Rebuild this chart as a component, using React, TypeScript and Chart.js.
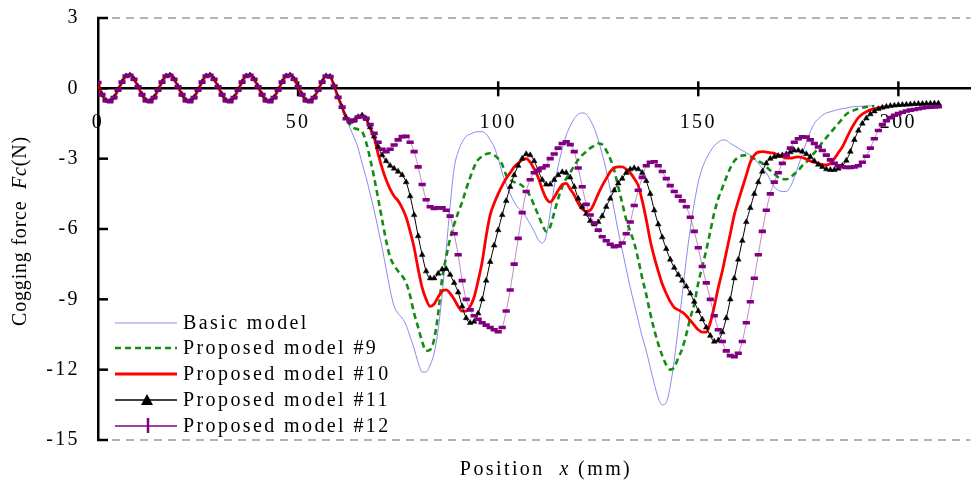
import React, { useEffect, useRef } from "react";
import { Chart, registerables } from "chart.js";

Chart.register(...registerables);

const SERIF = '"Liberation Serif", "Times New Roman", serif';

const seriesNames = [
  "Basic model",
  "Proposed model #9",
  "Proposed model #10",
  "Proposed model #11",
  "Proposed model #12",
];
const xTickValues = [0, 50, 100, 150, 200];
const yTickValues = [3, 0, -3, -6, -9, -12, -15];

// Values (N) at 1 mm steps, 0 .. 61 mm: identical for every model
const commonStart = [
  0.25, -0.27, -0.52, -0.56, -0.39, -0.07, 0.27, 0.52, 0.56, 0.39,
  0.07, -0.27, -0.52, -0.56, -0.39, -0.07, 0.27, 0.52, 0.56, 0.39,
  0.07, -0.27, -0.52, -0.56, -0.39, -0.07, 0.27, 0.52, 0.56, 0.39,
  0.07, -0.27, -0.52, -0.56, -0.39, -0.07, 0.27, 0.52, 0.56, 0.39,
  0.07, -0.27, -0.52, -0.56, -0.39, -0.07, 0.27, 0.52, 0.56, 0.39,
  0.07, -0.27, -0.52, -0.56, -0.39, -0.07, 0.27, 0.52, 0.5, 0.1,
  -0.38, -0.8,
];

// From 62 mm onwards, 1 mm steps
const basicTail = [
  -1.25, -1.7, -2.1, -2.55, -3.2, -3.8, -4.5, -5.2, -6.0, -6.8,
  -7.7, -8.6, -9.3, -9.6, -9.8, -10.1, -10.6, -11.1, -11.7, -12.1,
  -12.1, -11.8, -11.3, -10.3, -8.8, -6.9, -5.0, -3.4, -2.7, -2.3,
  -2.05, -1.95, -1.88, -1.85, -1.85, -1.95, -2.2, -2.5, -3.0, -3.6,
  -4.1, -4.5, -4.85, -5.1, -5.25, -5.5, -5.8, -6.1, -6.45, -6.6,
  -6.3, -5.3, -4.2, -3.3, -2.6, -2.0, -1.6, -1.3, -1.1, -1.05,
  -1.1, -1.35, -1.7, -2.2, -2.8, -3.5, -4.3, -5.2, -6.1, -6.9,
  -7.7, -8.5, -9.2, -9.9, -10.6, -11.2, -11.9, -12.6, -13.2, -13.5,
  -13.4, -12.7, -11.6, -10.2, -8.8, -7.3, -6.0, -4.9, -4.0, -3.4,
  -3.0, -2.7, -2.45, -2.3, -2.2, -2.22, -2.35, -2.45, -2.55, -2.65,
  -2.75, -2.85, -3.0, -3.2, -3.4, -3.6, -3.9, -4.2, -4.35, -4.4,
  -4.4, -4.2, -3.8, -3.3, -2.8, -2.3, -1.85, -1.5, -1.3, -1.15,
  -1.05, -1.0, -0.95, -0.9, -0.87, -0.84, -0.8, -0.78, -0.77, -0.76,
  -0.75, -0.75, -0.74,
];

const model9Tail = [
  -1.25, -1.55, -1.7, -1.75, -1.85, -2.3, -3.0, -3.8, -4.7, -5.6,
  -6.5, -7.2, -7.55, -7.8, -8.0, -8.3, -8.85, -9.6, -10.2, -10.8,
  -11.2, -11.15, -10.7, -9.6, -8.1, -7.2, -6.4, -5.8, -5.3, -4.85,
  -4.3, -3.8, -3.35, -3.05, -2.9, -2.8, -2.77, -2.85, -3.0, -3.25,
  -3.7, -3.9, -4.0, -4.05, -4.15, -4.35, -4.6, -5.0, -5.4, -5.8,
  -6.1, -5.9, -5.3, -4.7, -4.2, -3.85, -3.6, -3.3, -3.05, -2.85,
  -2.7, -2.55, -2.45, -2.35, -2.4, -2.65, -3.0, -3.5, -4.2, -4.9,
  -5.6, -6.1, -6.6, -7.3, -8.1, -8.8, -9.6, -10.3, -10.9, -11.4,
  -11.8, -12.0, -11.9, -11.5, -11.1, -10.5, -9.8, -9.2, -8.3, -7.6,
  -6.9, -6.1, -5.3, -4.7, -4.25, -3.8, -3.4, -3.1, -2.95, -2.87,
  -2.85, -2.9, -3.0, -3.1, -3.2, -3.35, -3.5, -3.65, -3.8, -3.87,
  -3.88, -3.8, -3.65, -3.5, -3.3, -3.15, -2.95, -2.75, -2.55, -2.3,
  -2.1, -1.9, -1.7, -1.5, -1.3, -1.1, -1.0, -0.93, -0.87, -0.83,
  -0.8, -0.77, -0.76,
];

const model10Tail = [
  -1.25, -1.42, -1.38, -1.22, -1.15, -1.3, -1.7, -2.1, -2.8, -3.4,
  -3.9, -4.3, -4.6, -4.8, -5.1, -5.5, -6.1, -6.8, -7.7, -8.5,
  -9.0, -9.3, -9.2, -8.9, -8.65, -8.6, -8.75, -9.0, -9.3, -9.5,
  -9.5, -9.3, -8.9, -8.2, -7.4, -6.3, -5.4, -4.9, -4.5, -4.15,
  -3.85, -3.6, -3.35, -3.2, -3.05, -3.0, -3.15, -3.45, -3.8, -4.3,
  -4.7, -4.85, -4.65, -4.35, -4.1, -4.05, -4.3, -4.55, -4.9, -5.15,
  -5.25, -5.2, -4.9, -4.5, -4.15, -3.85, -3.55, -3.4, -3.35, -3.35,
  -3.45, -3.6, -3.85, -4.15, -4.8, -5.6, -6.5, -7.2, -7.8, -8.35,
  -8.75, -9.1, -9.35, -9.45, -9.55, -9.7, -9.9, -10.1, -10.3, -10.4,
  -10.4, -10.0, -9.3, -8.5, -7.8, -7.0, -6.2, -5.4, -4.8, -4.25,
  -3.7, -3.15, -2.85, -2.72, -2.7, -2.72, -2.75, -2.77, -2.85, -2.92,
  -2.98, -2.98, -2.95, -2.92, -2.95, -3.02, -3.1, -3.15, -3.2, -3.25,
  -3.27, -3.2, -3.0, -2.75, -2.5, -2.15, -1.8, -1.5, -1.25, -1.1,
  -1.0, -0.92, -0.87, -0.83, -0.8, -0.78,
];

const model11Tail = [
  -1.25, -1.42, -1.38, -1.22, -1.15, -1.3, -1.65, -2.05, -2.5, -2.85,
  -3.1, -3.3, -3.42, -3.55, -3.7, -4.0, -4.6, -5.4, -6.3, -7.1,
  -7.8, -8.1, -8.1, -7.9, -7.72, -7.7, -7.95, -8.3, -8.7, -9.3,
  -9.8, -10.0, -9.95, -9.6, -9.0, -8.2, -7.4, -6.7, -6.05, -5.4,
  -4.8, -4.2, -3.7, -3.3, -3.0, -2.8, -2.85, -3.1, -3.5, -3.9,
  -4.1, -4.1, -3.9, -3.7, -3.57, -3.6, -3.8, -4.2, -4.7, -5.05,
  -5.35, -5.65, -5.8, -5.7, -5.45, -5.05, -4.7, -4.35, -4.05, -3.85,
  -3.6, -3.45, -3.4, -3.45, -3.6, -3.95, -4.5, -5.2, -5.8, -6.35,
  -6.85, -7.3, -7.65, -7.95, -8.2, -8.45, -8.75, -9.1, -9.5, -9.85,
  -10.2, -10.55, -10.8, -10.75, -10.4, -9.8, -9.0, -8.1, -7.3, -6.5,
  -5.7, -5.1, -4.5, -4.0, -3.55, -3.2, -3.0, -2.92, -2.88, -2.85,
  -2.8, -2.72, -2.65, -2.65, -2.7, -2.8, -2.92, -3.1, -3.25, -3.35,
  -3.45, -3.48, -3.48, -3.42, -3.3, -3.08, -2.7, -2.2, -1.8, -1.5,
  -1.28, -1.1, -0.98, -0.88, -0.82, -0.78, -0.75, -0.73, -0.71, -0.7,
  -0.69, -0.68, -0.67, -0.66, -0.66, -0.65, -0.65, -0.64, -0.64,
];

const model12Tail = [
  -1.3, -1.4, -1.35, -1.22, -1.2, -1.28, -1.55, -1.92, -2.3, -2.6,
  -2.7, -2.6, -2.42, -2.2, -2.06, -2.05, -2.3, -2.7, -3.35, -4.1,
  -4.75, -5.05, -5.12, -5.1, -5.1, -5.2, -5.45, -6.2, -7.1, -8.2,
  -9.0, -9.45, -9.7, -9.85, -10.0, -10.1, -10.2, -10.3, -10.38, -10.2,
  -9.5, -8.6, -7.5, -6.4, -5.3, -4.4, -3.9, -3.6, -3.5, -3.4,
  -3.3, -3.0, -2.8, -2.55, -2.35, -2.28, -2.4, -2.7, -3.4, -4.2,
  -4.95, -5.4, -5.75, -6.05, -6.33, -6.5, -6.65, -6.75, -6.72, -6.6,
  -6.2, -5.7, -5.0, -4.35, -3.8, -3.3, -3.15, -3.13, -3.3, -3.55,
  -3.85, -4.15, -4.4, -4.6, -4.8, -5.05, -5.5, -6.1, -6.8, -7.6,
  -8.3, -9.0, -9.7, -10.3, -10.8, -11.2, -11.4, -11.45, -11.3, -10.8,
  -10.0, -9.1, -8.1, -7.1, -6.1, -5.2, -4.5, -4.0, -3.6, -3.2,
  -2.85, -2.55, -2.3, -2.15, -2.07, -2.08, -2.2, -2.35, -2.5, -2.65,
  -2.85, -3.05, -3.2, -3.3, -3.35, -3.37, -3.37, -3.35, -3.3, -3.15,
  -2.9, -2.55, -2.15, -1.8, -1.55, -1.38, -1.25, -1.15, -1.08, -1.02,
  -0.97, -0.93, -0.9, -0.87, -0.84, -0.82, -0.8, -0.79, -0.78,
];

const seriesTails = [basicTail, model9Tail, model10Tail, model11Tail, model12Tail];

function toPoints(tail: number[]) {
  return commonStart.concat(tail).map((y, i) => ({ x: i, y }));
}

type Marker = "none" | "triangle" | "bar";
const seriesLook: { color: string; width: number; dash: number[]; marker: Marker }[] = [
  { color: "#8a8aee", width: 1, dash: [], marker: "none" },
  { color: "#148c14", width: 2.6, dash: [6, 4], marker: "none" },
  { color: "#ff0000", width: 2.8, dash: [], marker: "none" },
  { color: "#000000", width: 1, dash: [], marker: "triangle" },
  { color: "#800080", width: 1, dash: [], marker: "bar" },
];

const decorPlugin = {
  id: "decor",
  beforeDraw(chart: any) {
    chart.ctx.letterSpacing = "2.4px";
  },
  beforeDatasetsDraw(chart: any) {
    const { ctx, chartArea: a, scales } = chart;
    const xs = scales.x;
    const ys = scales.y;
    ctx.save();
    ctx.strokeStyle = "#9a9a9a";
    ctx.lineWidth = 1.5;
    ctx.setLineDash([8, 6]);
    [ys.max, ys.min].forEach((v: number) => {
      const py = ys.getPixelForValue(v);
      ctx.beginPath();
      ctx.moveTo(a.left + 14, py);
      ctx.lineTo(a.right, py);
      ctx.stroke();
    });
    ctx.setLineDash([]);
    ctx.strokeStyle = "#000";
    ctx.lineWidth = 2.5;
    yTickValues.forEach((v) => {
      const py = ys.getPixelForValue(v);
      ctx.beginPath();
      ctx.moveTo(a.left - 1, py);
      ctx.lineTo(a.left + 10, py);
      ctx.stroke();
    });
    const y0 = ys.getPixelForValue(0);
    xTickValues.forEach((v) => {
      if (v === 0) return;
      const px = xs.getPixelForValue(v);
      ctx.beginPath();
      ctx.moveTo(px, y0 - 7);
      ctx.lineTo(px, y0 + 8);
      ctx.stroke();
    });
    ctx.restore();
  },
  afterDraw(chart: any) {
    const { ctx } = chart;
    ctx.save();
    // legend
    const rowsY = [323, 348, 374, 400, 426];
    ctx.font = `20px ${SERIF}`;
    ctx.letterSpacing = "2.4px";
    ctx.textBaseline = "middle";
    ctx.textAlign = "left";
    ctx.fillStyle = "#000";
    seriesNames.forEach((name, i) => {
      const look = seriesLook[i];
      const yy = rowsY[i];
      ctx.save();
      ctx.strokeStyle = look.color;
      ctx.lineWidth = look.marker === "none" ? look.width : 1.6;
      ctx.setLineDash(look.dash);
      ctx.beginPath();
      ctx.moveTo(115, yy);
      ctx.lineTo(177, yy);
      ctx.stroke();
      ctx.setLineDash([]);
      if (look.marker === "triangle") {
        ctx.fillStyle = look.color;
        ctx.beginPath();
        ctx.moveTo(147, yy - 6);
        ctx.lineTo(153, yy + 5);
        ctx.lineTo(141, yy + 5);
        ctx.closePath();
        ctx.fill();
      } else if (look.marker === "bar") {
        ctx.lineWidth = 2.5;
        ctx.beginPath();
        ctx.moveTo(148, yy - 8);
        ctx.lineTo(148, yy + 7);
        ctx.stroke();
      }
      ctx.restore();
      ctx.fillText(name, 183, yy + 1);
    });

    // axis titles
    const drawParts = (parts: { t: string; italic: boolean }[], spacing: string) => {
      ctx.letterSpacing = spacing;
      let total = 0;
      const widths = parts.map((p) => {
        ctx.font = `${p.italic ? "italic " : ""}20px ${SERIF}`;
        const w = ctx.measureText(p.t).width;
        total += w;
        return w;
      });
      let cx = -total / 2;
      parts.forEach((p, i) => {
        ctx.font = `${p.italic ? "italic " : ""}20px ${SERIF}`;
        ctx.fillText(p.t, cx, 0);
        cx += widths[i];
      });
    };
    ctx.textBaseline = "middle";
    ctx.save();
    ctx.translate(546, 470);
    drawParts(
      [
        { t: "Position  ", italic: false },
        { t: "x", italic: true },
        { t: " (mm)", italic: false },
      ],
      "2.4px"
    );
    ctx.restore();
    ctx.save();
    ctx.translate(21, 231);
    ctx.rotate(-Math.PI / 2);
    drawParts(
      [
        { t: "Cogging force  ", italic: false },
        { t: "Fc", italic: true },
        { t: "(N)", italic: false },
      ],
      "0.8px"
    );
    ctx.restore();
    ctx.restore();
  },
};

export default function App() {
  const canvasRef = useRef<HTMLCanvasElement | null>(null);

  useEffect(() => {
    if (!canvasRef.current) return;
    Chart.defaults.font.family = SERIF;
    Chart.defaults.font.size = 20;
    Chart.defaults.color = "#000";

    const datasets = seriesTails.map((tail, i) => {
      const look = seriesLook[i];
      const base: any = {
        label: seriesNames[i],
        data: toPoints(tail),
        borderColor: look.color,
        borderWidth: look.width,
        borderDash: look.dash,
        pointRadius: 0,
        cubicInterpolationMode: "monotone",
        fill: false,
        order: 5 - i,
      };
      if (look.marker === "triangle") {
        base.pointStyle = "triangle";
        base.pointRadius = 3.3;
        base.pointBackgroundColor = "#000";
        base.pointBorderColor = "#000";
        base.pointBorderWidth = 0.5;
      }
      if (look.marker === "bar") {
        base.borderColor = "rgba(150,40,150,0.55)";
        base.pointStyle = "line";
        base.pointRadius = 3.6;
        base.pointBorderColor = "#800080";
        base.pointBorderWidth = 3.6;
      }
      return base;
    });

    const chart = new Chart(canvasRef.current, {
      type: "line",
      data: { datasets },
      plugins: [decorPlugin],
      options: {
        animation: false,
        responsive: true,
        maintainAspectRatio: false,
        layout: { padding: { top: 18, right: 0, bottom: 48, left: 0 } },
        plugins: { legend: { display: false }, tooltip: { enabled: false } },
        scales: {
          x: {
            type: "linear",
            min: 0,
            max: 218,
            position: { y: 0 } as any,
            afterBuildTicks: (s: any) => {
              s.ticks = xTickValues.map((v) => ({ value: v }));
            },
            afterFit: (s: any) => {
              s.height = 0;
              s.paddingLeft = 0;
              s.paddingRight = 0;
            },
            grid: { display: false, drawTicks: false },
            border: { display: true, color: "#000", width: 2.5 },
            ticks: { padding: 22, color: "#000", font: { size: 20, family: SERIF }, maxRotation: 0 },
          },
          y: {
            type: "linear",
            min: -15,
            max: 3,
            position: "left",
            afterBuildTicks: (s: any) => {
              s.ticks = yTickValues.map((v) => ({ value: v }));
            },
            afterFit: (s: any) => {
              s.width = 98;
              s.paddingTop = 0;
              s.paddingBottom = 0;
            },
            grid: { display: false, drawTicks: false },
            border: { display: true, color: "#000", width: 2.5 },
            ticks: { padding: 18, color: "#000", font: { size: 20, family: SERIF } },
          },
        },
      } as any,
    });
    return () => chart.destroy();
  }, []);

  return (
    <div style={{ position: "fixed", left: 0, top: 0, width: 978, height: 488, background: "#fff" }}>
      <canvas ref={canvasRef} />
    </div>
  );
}
